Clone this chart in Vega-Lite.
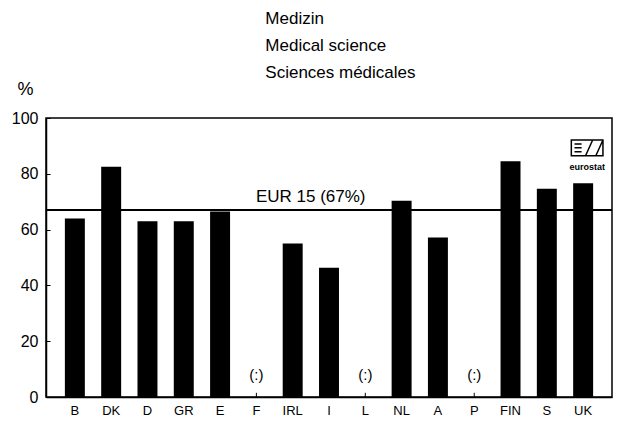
{
  "$schema": "https://vega.github.io/schema/vega-lite/v6.json",
  "autosize": "none",
  "width": 566,
  "height": 279,
  "padding": {"left": 46, "top": 118, "right": 5, "bottom": 26},
  "background": "white",
  "config": {
    "font": "Liberation Sans",
    "view": {"stroke": "black", "strokeWidth": 1.5},
    "axis": {"labelColor": "black", "domainColor": "black", "tickColor": "black", "grid": false}
  },
  "title": {
    "text": ["Medizin", "Medical science", "Sciences médicales"],
    "anchor": "start",
    "dx": 254,
    "offset": -2,
    "fontSize": 17,
    "fontWeight": "normal",
    "lineHeight": 27,
    "color": "black",
    "font": "Liberation Sans"
  },
  "data": {
    "values": [
      {"country": "B", "value": 64, "note": ""},
      {"country": "DK", "value": 82.5, "note": ""},
      {"country": "D", "value": 63, "note": ""},
      {"country": "GR", "value": 63, "note": ""},
      {"country": "E", "value": 66.5, "note": ""},
      {"country": "F", "value": null, "note": "(:)"},
      {"country": "IRL", "value": 55, "note": ""},
      {"country": "I", "value": 46.3, "note": ""},
      {"country": "L", "value": null, "note": "(:)"},
      {"country": "NL", "value": 70.3, "note": ""},
      {"country": "A", "value": 57.2, "note": ""},
      {"country": "P", "value": null, "note": "(:)"},
      {"country": "FIN", "value": 84.5, "note": ""},
      {"country": "S", "value": 74.6, "note": ""},
      {"country": "UK", "value": 76.6, "note": ""}
    ]
  },
  "encoding": {
    "x": {
      "field": "country",
      "type": "nominal",
      "sort": null,
      "scale": {"domain": ["B", "DK", "D", "GR", "E", "F", "IRL", "I", "L", "NL", "A", "P", "FIN", "S", "UK"], "paddingInner": 0.45, "paddingOuter": 0.52},
      "axis": {"title": null, "labelAngle": 0, "ticks": false, "labelFontSize": 13, "labelPadding": 7, "domain": true, "domainWidth": 1.5}
    }
  },
  "layer": [
    {
      "mark": {"type": "bar", "color": "black"},
      "encoding": {
        "y": {
          "field": "value",
          "type": "quantitative",
          "scale": {"domain": [0, 100], "nice": false},
          "axis": {
            "title": "%",
            "titleAngle": 0,
            "titleFontSize": 18,
            "titleFontWeight": "normal",
            "titleColor": "black",
            "titleAlign": "left",
            "titleBaseline": "middle",
            "titleX": -29,
            "titleY": -29,
            "values": [0, 10, 20, 30, 40, 50, 60, 70, 80, 90, 100],
            "labelExpr": "datum.value % 20 == 0 ? datum.label : ''",
            "labelFontSize": 16,
            "tickSize": -4,
            "labelPadding": 12,
            "domainWidth": 1.5
          }
        }
      }
    },
    {
      "transform": [{"filter": "datum.note != ''"}],
      "mark": {"type": "text", "fontSize": 15, "baseline": "bottom", "color": "black"},
      "encoding": {
        "y": {"datum": 5, "type": "quantitative"},
        "text": {"field": "note"}
      }
    },
    {
      "transform": [{"filter": "datum.note != ''"}],
      "mark": {"type": "rule", "color": "black"},
      "encoding": {
        "y": {"datum": 0, "type": "quantitative"},
        "y2": {"datum": 1.5}
      }
    },
    {
      "data": {"values": [{"eur": 67, "label": "EUR 15 (67%)", "country": "IRL"}]},
      "layer": [
        {
          "mark": {"type": "rule", "color": "black", "strokeWidth": 2},
          "encoding": {"y": {"field": "eur", "type": "quantitative"}, "x": null}
        },
        {
          "mark": {"type": "text", "fontSize": 17, "baseline": "bottom", "dy": -4, "dx": 18, "color": "black"},
          "encoding": {
            "y": {"field": "eur", "type": "quantitative"},
            "text": {"field": "label"}
          }
        }
      ]
    },
    {
      "data": {"values": [{"country": "UK", "ly": 89.3, "ty": 82.5, "t": "eurostat"}]},
      "layer": [
        {
          "mark": {"type": "point", "shape": "M-1,-0.5H1V0.5H-1Z M-0.1,0.5L0.35,-0.5 M0.55,0.5L1,-0.5 M-0.8,-0.25H-0.35 M-0.8,0H-0.35 M-0.8,0.25H-0.35", "filled": false, "color": "black", "strokeWidth": 1.5, "size": 1000, "opacity": 1, "xOffset": 4},
          "encoding": {
            "y": {"field": "ly", "type": "quantitative"}
          }
        },
        {
          "mark": {"type": "text", "fontSize": 9, "fontWeight": "bold", "baseline": "middle", "color": "black", "dx": 4},
          "encoding": {
            "y": {"field": "ty", "type": "quantitative"},
            "text": {"field": "t"}
          }
        }
      ]
    }
  ]
}
